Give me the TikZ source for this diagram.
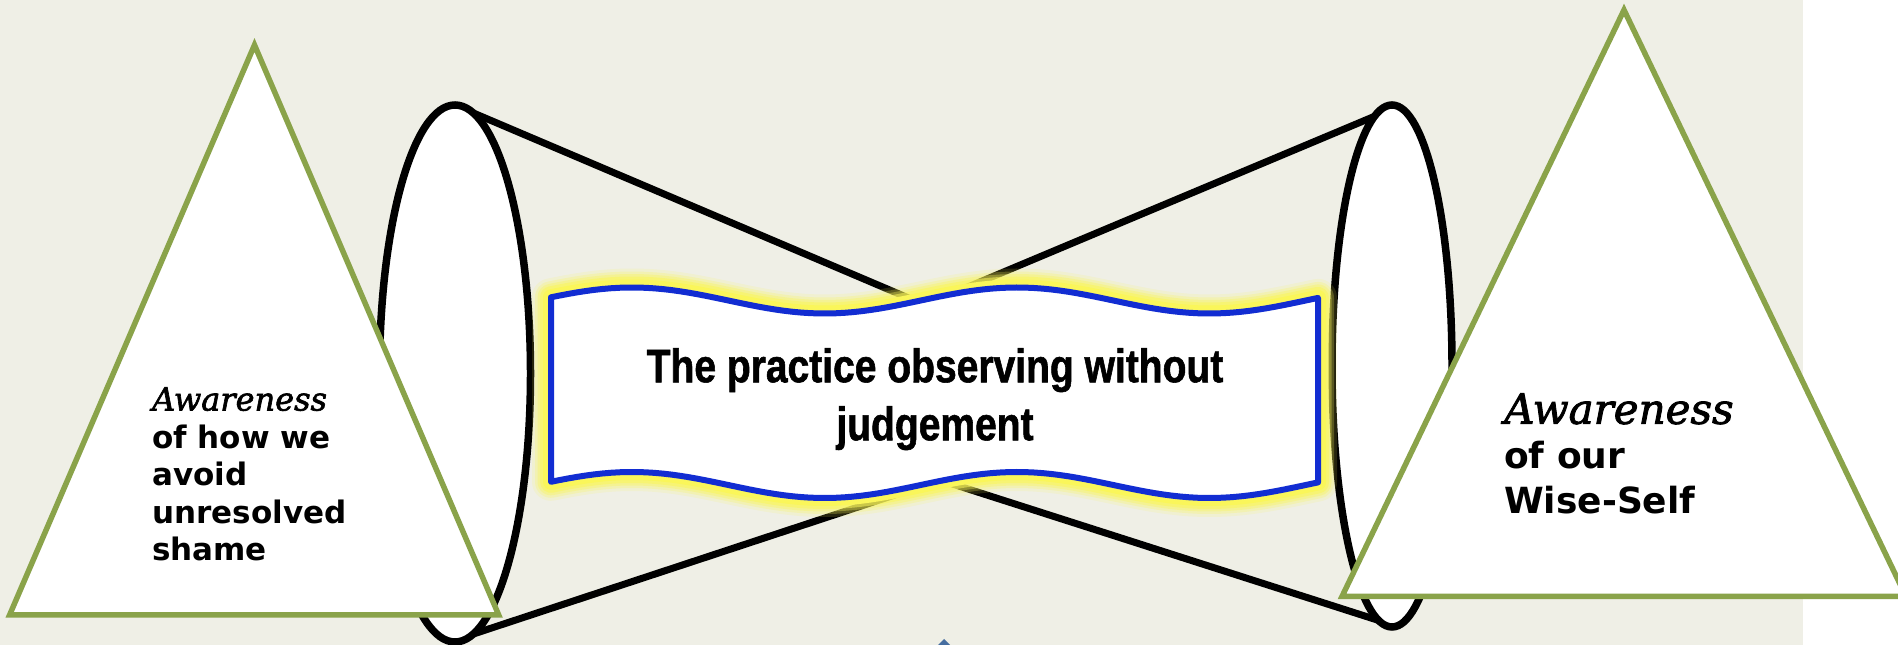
\documentclass[tikz,border=0pt]{standalone}
\usepackage{fontspec}
\setsansfont{DejaVu Sans}
\newfontfamily\awarefont[FakeBold=2]{DejaVu Serif}
\newfontfamily\narrowfont[FakeStretch=0.83, FakeBold=1.2]{Liberation Sans}
\usetikzlibrary{shapes.geometric}

\definecolor{paper}{RGB}{239,239,230}
\definecolor{leafgreen}{RGB}{138,163,74}
\definecolor{bannerblue}{RGB}{18,45,210}
\definecolor{glowyellow}{RGB}{250,246,90}
\definecolor{tipblue}{RGB}{70,110,160}

% wavy banner outline (top and bottom edge)
\newcommand\wavepath{plot[domain=551:1318, samples=90] (\x, {344.5+13*cos((\x-632)/385*360)})
  -- plot[domain=1318:551, samples=90] (\x, {160+13*cos((\x-632)/385*360)}) -- cycle}

\begin{document}
\begin{tikzpicture}[
    x=1pt, y=1pt,
    rim/.style={
        ellipse, draw=black, line width=7.5pt,
        fill=white, inner sep=0pt, outer sep=0pt
    },
    cone/.style={draw=black, line width=7pt},
    peak/.style={draw=leafgreen, line width=5.5pt, fill=white},
    glow/.style={draw=glowyellow, line join=round},
    banner/.style={draw=bannerblue, line width=6pt, fill=white, line join=round},
    label/.style={inner sep=0pt, align=left, anchor=north west, text=black}
]

% ---------------------------------------------------------------------
% BACKGROUND
% ---------------------------------------------------------------------
\fill[paper] (0,0) rectangle (1803,645);
\useasboundingbox (0,0) rectangle (1898,645);

% ---------------------------------------------------------------------
% CONES: two rims meeting behind the banner
% ---------------------------------------------------------------------
\node[rim, minimum width=151pt, minimum height=537pt] (LeftRim) at (455,271.5) {};
\node[rim, minimum width=120pt, minimum height=522pt] (RightRim) at (1392,279) {};

\coordinate (TopMeet) at (925,340);
\coordinate (BotMeet) at (940,165);

\draw[cone] (LeftRim.86) -- (TopMeet) -- (RightRim.94);
\draw[cone] (LeftRim.-86) -- (BotMeet) -- (RightRim.-93);

% ---------------------------------------------------------------------
% BANNER
% ---------------------------------------------------------------------
\foreach \w/\o in {38/0.15, 32/0.25, 27/0.35, 22/0.55, 16/1}
    \draw[glow, line width=\w pt, opacity=\o] \wavepath;
\draw[banner] \wavepath;

\node[inner sep=0pt, align=center, anchor=north,
      font=\narrowfont\bfseries\fontsize{47}{58}\selectfont] (Practice) at (935,297)
      {The practice observing without\\judgement};

% ---------------------------------------------------------------------
% LEFT TRIANGLE
% ---------------------------------------------------------------------
\draw[peak] (254.5,600) -- (498.7,30) -- (9.6,30) -- cycle;
\node[label, font=\sffamily\bfseries\fontsize{31}{37.5}\selectfont] (LeftText) at (152,258)
      {{\awarefont\itshape\mdseries\fontsize{32}{37.5}\selectfont Awareness}\\of how we\\avoid\\unresolved\\shame};

% ---------------------------------------------------------------------
% RIGHT TRIANGLE
% ---------------------------------------------------------------------
\draw[peak] (1624,635) -- (1906,48.5) -- (1342,48.5) -- cycle;
\node[label, font=\sffamily\bfseries\fontsize{36}{45}\selectfont] (RightText) at (1504,252)
      {{\awarefont\itshape\mdseries\fontsize{42}{45}\selectfont Awareness}\\of our\\Wise-Self};

% arrow tip peeking in at the bottom
\fill[tipblue] (938,0) -- (944,6) -- (950,0) -- cycle;

\end{tikzpicture}
\end{document}
